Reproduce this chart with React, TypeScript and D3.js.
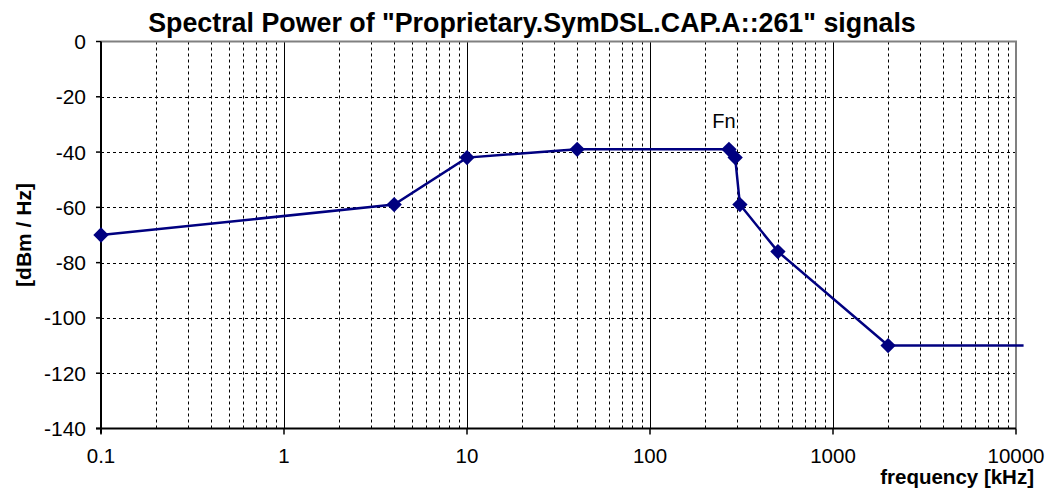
import React from "react";
import * as d3 from "d3";

const freqs = [0.1, 4, 10, 40, 270, 292, 310, 500, 2000, 11000];
const power = [-70, -59, -42, -39, -39, -42, -59, -76, -110, -110];
const markerFlags = [1, 1, 1, 1, 1, 1, 1, 1, 1, 0];
const xTickLabels = [0.1, 1, 10, 100, 1000, 10000];
const yTickLabels = [0, -20, -40, -60, -80, -100, -120, -140];

const W = 1049, H = 490;
const L = 101, R = 1016, T = 41.5, B = 428.5;

export default function App() {
  const x = d3.scaleLog().domain([0.1, 10000]).range([L, R]);
  const y = d3.scaleLinear().domain([-140, 0]).range([B, T]);
  const pts = freqs.map((f, i) => ({ f, p: power[i], m: markerFlags[i] }));
  const line = d3.line<any>().x(d => x(d.f)).y(d => y(d.p));
  const minor: number[] = [];
  for (let dec = 0.1; dec < 10000; dec *= 10) {
    for (let k = 2; k <= 9; k++) minor.push(dec * k);
  }
  const majors = xTickLabels.slice(1, -1);
  const font = "'Liberation Sans', Arial, sans-serif";
  const diamond = d3.symbol().type(d3.symbolDiamond2 ?? d3.symbolDiamond).size(150)();
  return (
    <svg width={W} height={H} style={{ position: "absolute", left: 0, top: 0 }} fontFamily={font}>
      <rect width={W} height={H} fill="#fff" />
      {minor.map((v, i) => (
        <line key={"mv" + i} x1={Math.round(x(v)) + 0.5} x2={Math.round(x(v)) + 0.5} y1={T} y2={B}
          stroke="#000" strokeWidth={1} strokeDasharray="3,3" />
      ))}
      {yTickLabels.slice(1, -1).map((v, i) => (
        <line key={"hg" + i} x1={L} x2={R} y1={Math.round(y(v)) + 0.5} y2={Math.round(y(v)) + 0.5}
          stroke="#000" strokeWidth={1} strokeDasharray="3,3" />
      ))}
      {majors.map((v, i) => (
        <line key={"Mv" + i} x1={Math.round(x(v)) + 0.5} x2={Math.round(x(v)) + 0.5} y1={T} y2={B}
          stroke="#000" strokeWidth={1} />
      ))}
      <line x1={L} x2={R + 1} y1={T} y2={T} stroke="#808080" strokeWidth={2} />
      <line x1={R} x2={R} y1={T} y2={B} stroke="#808080" strokeWidth={2} />
      <line x1={L} x2={L} y1={T} y2={B + 5} stroke="#000" strokeWidth={2} />
      <line x1={L - 5} x2={R} y1={B} y2={B} stroke="#000" strokeWidth={2} />
      {yTickLabels.map((v, i) => (
        <g key={"yt" + i}>
          <line x1={L - 5} x2={L} y1={y(v)} y2={y(v)} stroke="#000" strokeWidth={1.5} />
          <text x={86} y={y(v)} dy="0.36em" textAnchor="end" fontSize={21}>{v}</text>
        </g>
      ))}
      {xTickLabels.map((v, i) => (
        <g key={"xt" + i}>
          <line x1={x(v)} x2={x(v)} y1={B} y2={B + 6} stroke="#000" strokeWidth={1.5} />
          <text x={x(v)} y={463} textAnchor="middle" fontSize={20.5}>{v}</text>
        </g>
      ))}
      <path d={line(pts) || ""} fill="none" stroke="#000080" strokeWidth={2.5} />
      {pts.filter(d => d.m).map((d, i) => (
        <path key={"m" + i} d={diamond || ""} transform={`translate(${x(d.f)},${y(d.p)})`} fill="#000080" />
      ))}
      <text x={724} y={128} textAnchor="middle" fontSize={20}>Fn</text>
      <text x={532} y={32} textAnchor="middle" fontSize={26.8} fontWeight="bold">
        Spectral Power of "Proprietary.SymDSL.CAP.A::261" signals
      </text>
      <text x={1034} y={484} textAnchor="end" fontSize={20.5} fontWeight="bold">frequency [kHz]</text>
      <text transform={`translate(31,235) rotate(-90)`} textAnchor="middle" fontSize={21} fontWeight="bold">[dBm / Hz]</text>
    </svg>
  );
}
